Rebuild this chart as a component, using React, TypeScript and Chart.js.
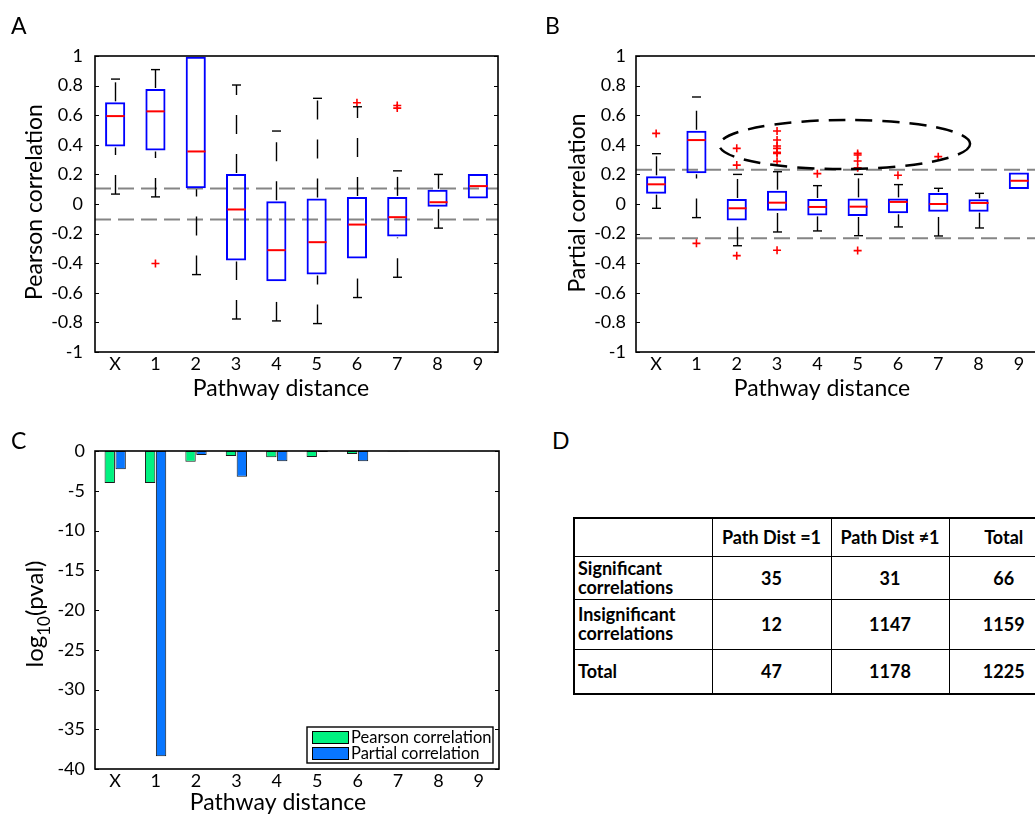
import React, { useEffect, useRef } from 'react';
import { Chart, registerables } from 'chart.js';

Chart.register(...registerables);

const FONT = 'Lato, "Open Sans", "DejaVu Sans", sans-serif';

// ---------- DATA ----------
const categories = ['X', '1', '2', '3', '4', '5', '6', '7', '8', '9'];

// Panel A: Pearson correlation box plots
const pearsonQ1 = [0.389, 0.362, 0.107, -0.382, -0.522, -0.477, -0.369, -0.22, -0.019, 0.037];
const pearsonQ3 = [0.687, 0.777, 0.995, 0.202, 0.019, 0.037, 0.048, 0.048, 0.096, 0.202];
const pearsonMedian = [0.594, 0.626, 0.355, -0.037, -0.312, -0.258, -0.139, -0.089, 0.012, 0.121];
const pearsonLow: (number | null)[] = [0.067, 0.048, -0.477, -0.777, -0.79, -0.808, -0.632, -0.495, -0.163, null];
const pearsonHigh: (number | null)[] = [0.844, 0.908, null, 0.804, 0.493, 0.714, 0.657, 0.224, 0.2, null];
const pearsonOutlierCats = ['1', '6', '7', '7'];
const pearsonOutlierVals = [-0.402, 0.684, 0.666, 0.648];
const pearsonThresholds = [0.105, -0.105];

// Panel B: Partial correlation box plots
const partialQ1 = [0.07, 0.207, -0.111, -0.045, -0.077, -0.081, -0.063, -0.052, -0.052, 0.101];
const partialQ3 = [0.187, 0.495, 0.034, 0.09, 0.034, 0.038, 0.038, 0.074, 0.032, 0.212];
const partialMedian = [0.133, 0.432, -0.029, 0.009, -0.02, -0.018, 0.014, 0.0, 0.007, 0.157];
const partialLow: (number | null)[] = [-0.029, -0.092, -0.282, -0.189, -0.182, -0.214, -0.155, -0.216, -0.162, null];
const partialHigh: (number | null)[] = [0.34, 0.723, 0.2, 0.218, 0.124, 0.2, 0.131, 0.106, 0.072, null];
const partialOutlierCats = ['X', '1', '2', '2', '2', '3', '3', '3', '3', '3', '3', '3', '3', '4', '5', '5', '5', '5', '5', '6', '7'];
const partialOutlierVals = [0.477, -0.266, 0.376, 0.263, -0.349, 0.493, 0.432, 0.392, 0.376, 0.35, 0.342, 0.288, -0.313, 0.205, 0.342, 0.331, 0.291, 0.245, -0.315, 0.194, 0.32];
const partialThresholds = [0.232, -0.232];
// dashed ellipse highlighting the outliers (category-index range, value range)
const ellipseCatRange = [1.57, 7.79];
const ellipseValRange = [0.236, 0.568];

// Panel C: log10 p-values
const pearsonLogP = [-4.03, -4.03, -1.34, -0.63, -0.8, -0.75, -0.38, -0.06, -0.04, -0.03];
const partialLogP = [-2.3, -38.4, -0.5, -3.23, -1.3, -0.12, -1.3, -0.06, -0.04, -0.03];

// Panel D: table
const tableHeader = ['', 'Path Dist =1', 'Path Dist \u22601', 'Total'];
const tableRowLabels = ['Significant\ncorrelations', 'Insignificant\ncorrelations', 'Total'];
const tableSignificant = [35, 31, 66];
const tableInsignificant = [12, 1147, 1159];
const tableTotal = [47, 1178, 1225];

const TICK_SIZE = 18;
const TITLE_SIZE = 23;

// ---------- PLUGINS ----------
function fmtTick(v: any) {
  const r = Math.round(Number(v) * 10) / 10;
  return String(r === 0 ? 0 : r);
}

function makeFramePlugin() {
  return {
    id: 'frame',
    afterDraw(chart: any) {
      const { ctx, chartArea: a, scales } = chart;
      ctx.save();
      ctx.strokeStyle = '#000';
      ctx.lineWidth = 1;
      const y = scales.y;
      y.ticks.forEach((t: any) => {
        const py = Math.round(y.getPixelForValue(t.value)) + 0.5;
        ctx.beginPath();
        ctx.moveTo(a.left, py);
        ctx.lineTo(a.left + 4, py);
        ctx.moveTo(a.right, py);
        ctx.lineTo(a.right - 4, py);
        ctx.stroke();
      });
      ctx.lineWidth = 1.6;
      ctx.strokeRect(a.left, a.top, a.right - a.left, a.bottom - a.top);
      ctx.restore();
    },
  };
}

function makeThresholdPlugin(values: number[]) {
  return {
    id: 'thresholds',
    beforeDatasetsDraw(chart: any) {
      const { ctx, chartArea: a, scales } = chart;
      ctx.save();
      ctx.strokeStyle = '#858585';
      ctx.lineWidth = 2;
      ctx.setLineDash([16, 7]);
      values.forEach((v) => {
        const py = scales.y.getPixelForValue(v);
        ctx.beginPath();
        ctx.moveTo(a.left, py);
        ctx.lineTo(a.right, py);
        ctx.stroke();
      });
      ctx.restore();
    },
  };
}

function makeBoxPlugin(q1: number[], q3: number[], med: number[], lo: (number | null)[], hi: (number | null)[]) {
  return {
    id: 'boxWhiskers',
    afterDatasetsDraw(chart: any) {
      const { ctx, scales } = chart;
      const x = scales.x;
      const y = scales.y;
      const meta = chart.getDatasetMeta(0);
      ctx.save();
      for (let i = 0; i < med.length; i++) {
        const cx = Math.round(x.getPixelForValue(i)) + 0.5;
        const bar: any = meta.data[i];
        const hw = bar.width / 2;
        ctx.strokeStyle = '#000';
        ctx.lineWidth = 1.4;
        ctx.setLineDash([19, 20]);
        const l = lo[i];
        const h = hi[i];
        if (l !== null) {
          ctx.beginPath();
          ctx.moveTo(cx, y.getPixelForValue(l));
          ctx.lineTo(cx, y.getPixelForValue(q1[i]) + 1);
          ctx.stroke();
        }
        if (h !== null) {
          ctx.beginPath();
          ctx.moveTo(cx, y.getPixelForValue(q3[i]) - 1);
          ctx.lineTo(cx, y.getPixelForValue(h));
          ctx.stroke();
        }
        ctx.setLineDash([]);
        [l, h].forEach((v) => {
          if (v === null) return;
          const py = y.getPixelForValue(v);
          ctx.beginPath();
          ctx.moveTo(cx - 4.5, py);
          ctx.lineTo(cx + 4.5, py);
          ctx.stroke();
        });
        ctx.strokeStyle = '#ff0000';
        ctx.lineWidth = 2;
        const pm = y.getPixelForValue(med[i]);
        ctx.beginPath();
        ctx.moveTo(cx - hw + 1, pm);
        ctx.lineTo(cx + hw - 1, pm);
        ctx.stroke();
      }
      ctx.restore();
    },
  };
}

function makeEllipsePlugin(catRange: number[], valRange: number[]) {
  return {
    id: 'ellipse',
    afterDatasetsDraw(chart: any) {
      const { ctx, scales } = chart;
      const x0 = scales.x.getPixelForValue(catRange[0]);
      const x1 = scales.x.getPixelForValue(catRange[1]);
      const y0 = scales.y.getPixelForValue(valRange[1]);
      const y1 = scales.y.getPixelForValue(valRange[0]);
      ctx.save();
      ctx.strokeStyle = '#000';
      ctx.lineWidth = 2.5;
      ctx.setLineDash([17, 10]);
      ctx.beginPath();
      ctx.ellipse((x0 + x1) / 2, (y0 + y1) / 2, (x1 - x0) / 2, (y1 - y0) / 2, -0.005, 0, Math.PI * 2);
      ctx.stroke();
      ctx.restore();
    },
  };
}

type TextItem = { text: string; x: number; y: number; size: number; rotate?: boolean; sub?: string; tail?: string };

function makeTextPlugin(items: TextItem[]) {
  return {
    id: 'texts',
    afterDraw(chart: any) {
      const ctx = chart.ctx;
      ctx.save();
      ctx.fillStyle = '#000';
      ctx.textBaseline = 'middle';
      for (const it of items) {
        ctx.save();
        ctx.translate(it.x, it.y);
        if (it.rotate) ctx.rotate(-Math.PI / 2);
        if (it.sub) {
          const subSize = Math.round(it.size * 0.7);
          ctx.font = `${it.size}px ${FONT}`;
          const w1 = ctx.measureText(it.text).width;
          const w3 = ctx.measureText(it.tail || '').width;
          ctx.font = `${subSize}px ${FONT}`;
          const w2 = ctx.measureText(it.sub).width;
          let sx = -(w1 + w2 + w3) / 2;
          ctx.textAlign = 'left';
          ctx.font = `${it.size}px ${FONT}`;
          ctx.fillText(it.text, sx, 0);
          sx += w1;
          ctx.font = `${subSize}px ${FONT}`;
          ctx.fillText(it.sub, sx, it.size * 0.38);
          sx += w2;
          ctx.font = `${it.size}px ${FONT}`;
          ctx.fillText(it.tail || '', sx, 0);
        } else {
          ctx.textAlign = 'center';
          ctx.font = `${it.size}px ${FONT}`;
          ctx.fillText(it.text, 0, 0);
        }
        ctx.restore();
      }
      ctx.restore();
    },
  };
}

function makeLegendPlugin() {
  return {
    id: 'customLegend',
    afterDraw(chart: any) {
      const ctx = chart.ctx;
      const items = chart.data.datasets.map((d: any) => ({ label: d.label, color: d.backgroundColor }));
      ctx.save();
      ctx.fillStyle = '#fff';
      ctx.fillRect(307, 317, 186, 36);
      ctx.strokeStyle = '#000';
      ctx.lineWidth = 1.4;
      ctx.strokeRect(307, 317, 186, 36);
      items.forEach((it: any, i: number) => {
        const top = 321 + i * 16;
        ctx.fillStyle = it.color;
        ctx.fillRect(312, top, 36, 12);
        ctx.lineWidth = 1;
        ctx.strokeStyle = '#000';
        ctx.strokeRect(312.5, top + 0.5, 36, 12);
        ctx.fillStyle = '#000';
        ctx.font = `16.5px ${FONT}`;
        ctx.textAlign = 'left';
        ctx.textBaseline = 'middle';
        ctx.fillText(it.label, 351, top + 7);
      });
      ctx.restore();
    },
  };
}

// ---------- CONFIGS ----------
function boxConfig(opts: {
  q1: number[]; q3: number[]; med: number[]; lo: (number | null)[]; hi: (number | null)[];
  outCats: string[]; outVals: number[]; thresholds: number[];
  yWidth: number; padRight: number; tickPad: number; texts: TextItem[]; extra?: any[];
}) {
  return {
    type: 'bar',
    data: {
      labels: categories,
      datasets: [
        {
          type: 'bar',
          label: 'box',
          data: categories.map((_, i) => [opts.q1[i], opts.q3[i]]),
          backgroundColor: 'rgba(0,0,0,0)',
          borderColor: '#0000ff',
          borderWidth: 2,
          borderSkipped: false,
          barPercentage: 0.5,
          categoryPercentage: 1,
          order: 2,
        },
        {
          type: 'scatter',
          label: 'outliers',
          data: opts.outCats.map((c, i) => ({ x: c, y: opts.outVals[i] })),
          pointStyle: 'cross',
          pointRadius: 4,
          borderColor: '#ff0000',
          backgroundColor: '#ff0000',
          borderWidth: 1.6,
          order: 1,
        },
      ],
    },
    options: {
      responsive: false,
      animation: false,
      layout: { padding: { left: 0, top: 56, right: opts.padRight, bottom: 0 } },
      plugins: { legend: { display: false }, tooltip: { enabled: false } },
      scales: {
        x: {
          type: 'category',
          offset: true,
          grid: { display: false, drawTicks: false },
          border: { display: false },
          ticks: { font: { family: FONT, size: TICK_SIZE }, color: '#000', padding: 1, maxRotation: 0, autoSkip: false },
          afterFit: (s: any) => { s.height = 58; },
        },
        y: {
          min: -1,
          max: 1,
          grid: { display: false, drawTicks: false },
          border: { display: false },
          ticks: { stepSize: 0.2, callback: fmtTick, font: { family: FONT, size: TICK_SIZE }, color: '#000', padding: opts.tickPad },
          afterFit: (s: any) => { s.width = opts.yWidth; },
        },
      },
    },
    plugins: [
      makeThresholdPlugin(opts.thresholds),
      makeBoxPlugin(opts.q1, opts.q3, opts.med, opts.lo, opts.hi),
      ...(opts.extra || []),
      makeFramePlugin(),
      makeTextPlugin(opts.texts),
    ],
  };
}

function configA() {
  return boxConfig({
    q1: pearsonQ1, q3: pearsonQ3, med: pearsonMedian, lo: pearsonLow, hi: pearsonHigh,
    outCats: pearsonOutlierCats, outVals: pearsonOutlierVals, thresholds: pearsonThresholds,
    yWidth: 95, padRight: 22, tickPad: 12,
    texts: [
      { text: 'Pathway distance', x: 281, y: 389, size: TITLE_SIZE },
      { text: 'Pearson correlation', x: 35, y: 202, size: TITLE_SIZE, rotate: true },
    ],
  });
}

function configB() {
  return boxConfig({
    q1: partialQ1, q3: partialQ3, med: partialMedian, lo: partialLow, hi: partialHigh,
    outCats: partialOutlierCats, outVals: partialOutlierVals, thresholds: partialThresholds,
    yWidth: 116, padRight: 16, tickPad: 10,
    texts: [
      { text: 'Pathway distance', x: 302, y: 389, size: TITLE_SIZE },
      { text: 'Partial correlation', x: 58, y: 203, size: TITLE_SIZE, rotate: true },
    ],
    extra: [makeEllipsePlugin(ellipseCatRange, ellipseValRange)],
  });
}

function configC() {
  return {
    type: 'bar',
    data: {
      labels: categories,
      datasets: [
        {
          label: 'Pearson correlation',
          data: pearsonLogP,
          backgroundColor: '#00f280',
          borderColor: '#1a1a1a',
          borderWidth: 1,
          borderSkipped: false,
          categoryPercentage: 0.54,
          barPercentage: 0.95,
        },
        {
          label: 'Partial correlation',
          data: partialLogP,
          backgroundColor: '#0876ff',
          borderColor: '#1a1a1a',
          borderWidth: 1,
          borderSkipped: false,
          categoryPercentage: 0.54,
          barPercentage: 0.95,
        },
      ],
    },
    options: {
      responsive: false,
      animation: false,
      layout: { padding: { left: 0, top: 41, right: 21, bottom: 0 } },
      plugins: { legend: { display: false }, tooltip: { enabled: false } },
      scales: {
        x: {
          type: 'category',
          offset: true,
          grid: { display: false, drawTicks: false },
          border: { display: false },
          ticks: { font: { family: FONT, size: TICK_SIZE }, color: '#000', padding: 1, maxRotation: 0, autoSkip: false },
          afterFit: (s: any) => { s.height = 45; },
        },
        y: {
          min: -40,
          max: 0,
          grid: { display: false, drawTicks: false },
          border: { display: false },
          ticks: { stepSize: 5, font: { family: FONT, size: TICK_SIZE }, color: '#000', padding: 10 },
          afterFit: (s: any) => { s.width = 95; },
        },
      },
    },
    plugins: [
      makeFramePlugin(),
      makeLegendPlugin(),
      makeTextPlugin([
        { text: 'Pathway distance', x: 278, y: 393, size: TITLE_SIZE },
        { text: 'log', sub: '10', tail: '(pval)', x: 35, y: 204, size: 24, rotate: true },
      ]),
    ],
  };
}

// ---------- COMPONENTS ----------
function ChartCanvas({ make, left, top, width, height }: { make: () => any; left: number; top: number; width: number; height: number }) {
  const ref = useRef<HTMLCanvasElement | null>(null);
  useEffect(() => {
    if (!ref.current) return;
    const chart = new Chart(ref.current, make());
    return () => chart.destroy();
  }, []);
  return (
    <canvas
      ref={ref}
      width={width}
      height={height}
      style={{ position: 'absolute', left, top, width, height }}
    />
  );
}

function PanelLabel({ text, x, y }: { text: string; x: number; y: number }) {
  return (
    <div style={{ position: 'absolute', left: x, top: y, fontSize: 23, lineHeight: '22px', fontFamily: FONT, color: '#000' }}>
      {text}
    </div>
  );
}

function DataTable() {
  const rows = [tableSignificant, tableInsignificant, tableTotal];
  const heights = [43, 50, 45];
  const colW = [138, 119, 118, 110];
  const cell: React.CSSProperties = { border: '1px solid #000', textAlign: 'center', padding: '0 3px', verticalAlign: 'middle' };
  return (
    <table
      style={{
        position: 'absolute', left: 573, top: 517, borderCollapse: 'collapse', border: '2px solid #000',
        fontFamily: FONT, fontWeight: 700, fontSize: 18, tableLayout: 'fixed', width: 485, color: '#000',
      }}
    >
      <colgroup>
        {colW.map((w, i) => <col key={i} style={{ width: w }} />)}
      </colgroup>
      <tbody>
        <tr style={{ height: 38 }}>
          {tableHeader.map((h, i) => <td key={i} style={cell}>{h}</td>)}
        </tr>
        {rows.map((r, ri) => (
          <tr key={ri} style={{ height: heights[ri] }}>
            <td style={{ ...cell, textAlign: 'left', whiteSpace: 'pre-line', lineHeight: '19px' }}>{tableRowLabels[ri]}</td>
            {r.map((v, ci) => <td key={ci} style={cell}>{v}</td>)}
          </tr>
        ))}
      </tbody>
    </table>
  );
}

export default function App() {
  return (
    <div style={{ position: 'fixed', left: 0, top: 0, width: 1035, height: 814, overflow: 'hidden', background: '#fff' }}>
      <ChartCanvas make={configA} left={0} top={0} width={520} height={410} />
      <ChartCanvas make={configB} left={520} top={0} width={535} height={410} />
      <ChartCanvas make={configC} left={0} top={410} width={520} height={404} />
      <PanelLabel text="A" x={11} y={14} />
      <PanelLabel text="B" x={545} y={14} />
      <PanelLabel text="C" x={11} y={429} />
      <PanelLabel text="D" x={552} y={429} />
      <DataTable />
    </div>
  );
}
